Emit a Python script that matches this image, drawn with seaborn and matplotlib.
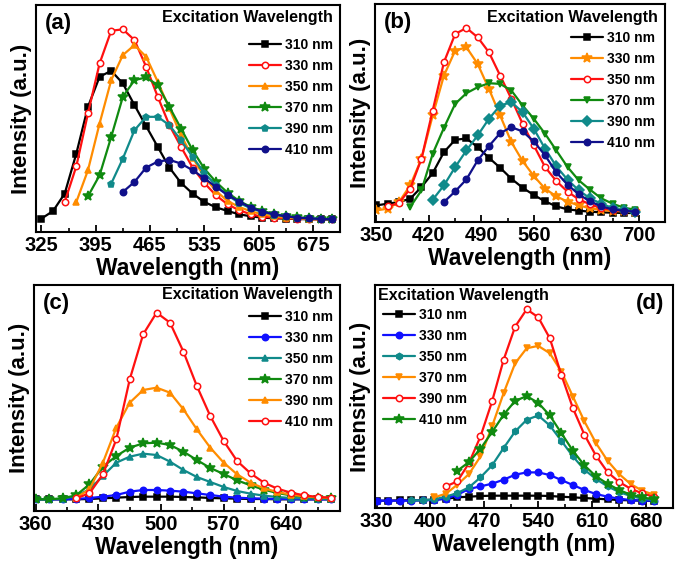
import numpy as np
import matplotlib
matplotlib.use("Agg")
import matplotlib.pyplot as plt
import seaborn as sns

# ---- panel (a) ----
a_wl = [325, 340, 355, 370, 385, 400, 415, 430, 445, 460, 475, 490, 505, 520,
        535, 550, 565, 580, 595, 610, 625, 640, 655, 670, 685, 700]
nan = np.nan
a_310 = [5, 28, 80, 200, 340, 430, 448, 410, 345, 282, 220, 158, 112, 80,
         55, 39, 28, 18, 12, 8, 6, 5, 4, 3, 3, 3]
a_330 = [nan, nan, 55, 162, 320, 470, 568, 572, 540, 460, 370, 285, 220, 158,
         112, 75, 48, 30, 18, 11, 8, 6, 5, 4, 3, 3]
a_350 = [nan, nan, nan, 55, 150, 290, 420, 495, 525, 490, 415, 335, 255, 188,
         130, 88, 58, 40, 27, 18, 12, 8, 6, 4, 3, 3]
a_370 = [nan, nan, nan, nan, 72, 135, 250, 370, 420, 428, 405, 340, 275, 210,
         155, 115, 83, 58, 40, 28, 19, 13, 9, 6, 4, 3]
a_390 = [nan, nan, nan, nan, nan, nan, 110, 185, 270, 310, 310, 285, 240, 190,
         142, 105, 75, 52, 36, 25, 17, 12, 8, 6, 4, 3]
a_410 = [nan, nan, nan, nan, nan, nan, nan, 85, 115, 158, 176, 181, 170, 150,
         126, 100, 76, 56, 38, 26, 18, 12, 8, 6, 4, 3]

# ---- panel (b) ----
b_wl = [350, 365, 380, 395, 410, 425, 440, 455, 470, 485, 500, 515, 530, 545,
        560, 575, 590, 605, 620, 635, 650, 665, 680, 695]
b_310 = [25, 30, 35, 45, 80, 122, 185, 222, 226, 200, 168, 138, 105, 78,
         56, 37, 22, 13, 9, 6, 4, 3, 2, 2]
b_330 = [10, 15, 35, 85, 165, 295, 415, 490, 500, 450, 375, 295, 215, 158,
         113, 75, 52, 36, 25, 16, 11, 8, 7, 5]
b_350 = [nan, 22, 32, 75, 165, 310, 455, 540, 558, 530, 485, 415, 345, 270,
         205, 140, 98, 66, 43, 28, 17, 11, 8, 10]
b_370 = [nan, nan, nan, 20, 70, 180, 258, 330, 362, 380, 392, 390, 370, 325,
         285, 240, 190, 140, 100, 72, 46, 30, 18, 12]
b_390 = [nan, nan, nan, nan, nan, 42, 85, 140, 190, 235, 285, 325, 335, 305,
         255, 195, 142, 102, 70, 46, 30, 17, 10, 6]
b_410 = [nan, nan, nan, nan, nan, nan, 35, 67, 103, 160, 203, 242, 260, 247,
         217, 175, 124, 87, 58, 37, 22, 13, 9, 6]

# ---- panel (c) ----
c_wl = [360, 375, 390, 405, 420, 435, 450, 465, 480, 495, 510, 525, 540, 555,
        570, 585, 600, 615, 630, 645, 660, 675, 690]
c_310 = [0, 0, 0, 0, 1, 3, 5, 7, 8, 8, 8, 7, 6, 4, 3, 2, 1, 1, 0, 0, 0, 0, 0]
c_330 = [0, 0, 0, 1, 4, 8, 13, 23, 28, 28, 26, 23, 18, 13, 8, 5, 3, 2, 1, 1,
         0, 0, 0]
c_350 = [0, 0, 2, 10, 30, 70, 110, 128, 137, 133, 113, 88, 67, 52, 37, 25,
         17, 11, 7, 4, 3, 2, 1]
c_370 = [0, 0, 3, 12, 45, 98, 130, 155, 168, 170, 163, 143, 118, 94, 76, 57,
         42, 29, 19, 12, 8, 5, 3]
c_390 = [nan, nan, nan, 5, 30, 110, 215, 290, 328, 335, 320, 270, 210, 155,
         110, 75, 50, 33, 22, 14, 9, 6, 4]
c_410 = [nan, nan, nan, 3, 18, 75, 180, 360, 495, 560, 530, 443, 340, 250,
         175, 115, 78, 50, 32, 20, 12, 7, 5]

# ---- panel (d) ----
d_wl = [330, 345, 360, 375, 390, 405, 420, 435, 450, 465, 480, 495, 510, 525,
        540, 555, 570, 585, 600, 615, 630, 645, 660, 675, 690]
d_310 = [2, 2, 3, 3, 4, 5, 8, 12, 14, 16, 17, 17, 17, 17, 17, 16, 14, 12, 10,
         8, 6, 4, 3, 2, 1]
d_330 = [2, 2, 2, 2, 3, 4, 8, 20, 37, 45, 53, 65, 80, 87, 87, 79, 64, 49, 34,
         22, 14, 8, 4, 2, 2]
d_350 = [nan, nan, nan, 3, 3, 6, 14, 25, 42, 72, 108, 160, 210, 245, 258, 228,
         182, 135, 95, 67, 45, 28, 16, 8, 4]
d_370 = [nan, nan, nan, nan, nan, 12, 23, 50, 82, 135, 225, 325, 415, 460, 467,
         445, 390, 315, 240, 175, 122, 82, 52, 32, 20]
d_390 = [nan, nan, nan, nan, nan, nan, 45, 60, 115, 195, 300, 425, 525, 577,
         553, 490, 380, 280, 200, 137, 88, 58, 38, 24, 14]
d_410 = [nan, nan, nan, nan, nan, nan, nan, 92, 118, 158, 208, 260, 302, 316,
         296, 258, 205, 152, 108, 75, 53, 34, 20, 12, 6]

labels = ["310 nm", "330 nm", "350 nm", "370 nm", "390 nm", "410 nm"]

BLACK, RED, ORANGE, GREEN = "#000000", "#ff1010", "#ff8c00", "#108a10"
TEAL, NAVY, BLUE = "#108a8a", "#10108a", "#1010ff"

sns.set_style("ticks")
plt.rcParams["font.family"] = ["Liberation Sans", "DejaVu Sans"]
plt.rcParams["font.weight"] = "bold"
plt.rcParams["text.color"] = "black"
plt.rcParams["axes.labelcolor"] = "black"
plt.rcParams["axes.edgecolor"] = "black"
plt.rcParams["xtick.color"] = "black"

fig = plt.figure(figsize=(6.87, 5.65), dpi=100)
W, H = 687, 565


def box(x0, y0, x1, y1):
    return [x0 / W, 1 - y1 / H, (x1 - x0) / W, (y1 - y0) / H]


panels = [
    dict(rect=box(36, 5, 340, 232), wl=a_wl, xlim=(318, 705), ylim=(-35, 645),
         ticks=[325, 395, 465, 535, 605, 675], tag="(a)", corner="left",
         title_y=0.943, leg_y=0.855, leg_x=0.977,
         series=[(a_310, BLACK, "s", None), (a_330, RED, "o", "w"),
                 (a_350, ORANGE, "^", None), (a_370, GREEN, "*", None),
                 (a_390, TEAL, "p", None), (a_410, NAVY, "o", None)]),
    dict(rect=box(375, 4, 665, 222), wl=b_wl, xlim=(348, 705), ylim=(-25, 630),
         ticks=[350, 420, 490, 560, 630, 700], tag="(b)", corner="left",
         title_y=0.936, leg_y=0.876, leg_x=0.966,
         series=[(b_310, BLACK, "s", None), (b_330, ORANGE, "*", None),
                 (b_350, RED, "o", "w"), (b_370, GREEN, "v", None),
                 (b_390, TEAL, "D", None), (b_410, NAVY, "o", None)]),
    dict(rect=box(34, 285, 340, 511), wl=c_wl, xlim=(358, 700), ylim=(-35, 643),
         ticks=[360, 430, 500, 570, 640], tag="(c)", corner="left",
         title_y=0.956, leg_y=0.889, leg_x=0.977,
         series=[(c_310, BLACK, "s", None), (c_330, BLUE, "o", None),
                 (c_350, TEAL, "^", None), (c_370, GREEN, "*", None),
                 (c_390, ORANGE, "^", None), (c_410, RED, "o", "w")]),
    dict(rect=box(375, 285, 673, 508), wl=d_wl, xlim=(328, 699), ylim=(-20, 650),
         ticks=[330, 400, 470, 540, 610, 680], tag="(d)", corner="right",
         title_y=0.955, leg_y=0.897, leg_x=0.027,
         series=[(d_310, BLACK, "s", None), (d_330, BLUE, "o", None),
                 (d_350, TEAL, "h", None), (d_370, ORANGE, "v", None),
                 (d_390, RED, "o", "w"), (d_410, GREEN, "*", None)]),
]

for p in panels:
    ax = fig.add_axes(p["rect"])
    for (vals, col, mk, face), lab in zip(p["series"], labels):
        ms = 7 if mk == "*" else 4.6
        sns.lineplot(x=p["wl"], y=vals, ax=ax, color=col, marker=mk,
                     markersize=ms, linewidth=1.6, label=lab, errorbar=None,
                     markerfacecolor=face if face else col,
                     markeredgecolor=col, markeredgewidth=1.1)
    ax.set_xlim(*p["xlim"])
    ax.set_ylim(*p["ylim"])
    ax.set_xticks(p["ticks"])
    ax.set_xticks([t + 35 for t in p["ticks"]], minor=True)
    ax.set_yticks([])
    ax.tick_params(axis="x", which="major", direction="in", length=5, width=1.3,
                   labelsize=14.5, pad=3)
    ax.tick_params(axis="x", which="minor", direction="in", length=3, width=1.2)
    for lbl in ax.get_xticklabels():
        lbl.set_fontweight("bold")
    for s in ax.spines.values():
        s.set_linewidth(1.5)
    ax.set_xlabel("Wavelength (nm)", fontsize=16.5, fontweight="bold", labelpad=1)
    ax.set_ylabel("Intensity (a.u.)", fontsize=16, fontweight="bold", labelpad=3)

    right = p["corner"] == "left"
    handles, labs = ax.get_legend_handles_labels()
    ax.legend(handles, labs, loc="upper right" if right else "upper left",
              bbox_to_anchor=(p["leg_x"], p["leg_y"]), frameon=False,
              handlelength=2.3, handletextpad=0.3, labelspacing=0.5,
              borderaxespad=0, borderpad=0,
              prop=dict(size=10, weight="bold"))
    ax.text(0.976 if right else 0.01, p["title_y"], "Excitation Wavelength",
            transform=ax.transAxes, fontsize=11.5, fontweight="bold",
            ha="right" if right else "left", va="center")
    tx = 0.03 if right else 0.97
    ax.text(tx, 0.965, p["tag"], transform=ax.transAxes, fontsize=16,
            fontweight="bold", ha="left" if right else "right", va="top")

fig.savefig("out.png", dpi=100)
